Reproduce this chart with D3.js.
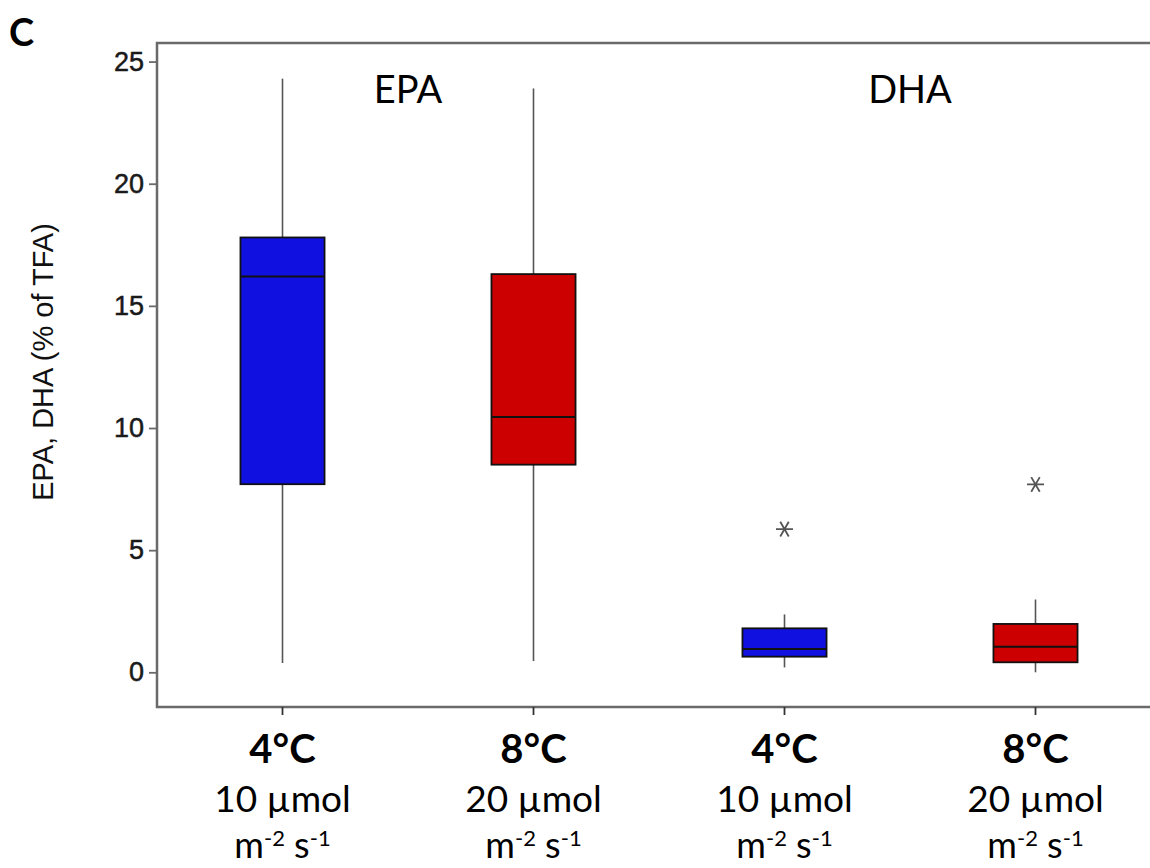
<!DOCTYPE html>
<html><head><meta charset="utf-8">
<script src="https://cdn.jsdelivr.net/npm/d3@7"></script>
<style>body{margin:0;background:#fff}svg{display:block}</style>
</head><body>
<svg id="c" width="1150" height="868"></svg>
<script>
const categories = ["4°C", "8°C", "4°C", "8°C"];
const lightLabels = ["10 µmol", "20 µmol", "10 µmol", "20 µmol"];
const groups = ["EPA", "DHA"];
const whiskerLow = [0.38, 0.46, 0.2, 0.0];
const q1 = [7.7, 8.5, 0.64, 0.41];
const median = [16.2, 10.45, 0.95, 1.05];
const q3 = [17.8, 16.3, 1.8, 1.98];
const whiskerHigh = [24.3, 23.9, 2.37, 2.98];
const outliers = [null, null, 5.86, 7.69];
const boxColors = ["#1010e0", "#cc0000", "#1010e0", "#cc0000"];
const yTicks = [0, 5, 10, 15, 20, 25];

(function () {
const svg = d3.select("#c");
const pLeft = 157, pTop = 43, pBottom = 707, pRight = 1161;
const x = d3.scaleBand().domain(d3.range(categories.length)).range([pLeft, pRight]).padding(0);
const y = d3.scaleLinear().domain([-1.42, 25.76]).range([pBottom, pTop]);
const bw = x.bandwidth() * 0.335;
const cx = i => x(i) + x.bandwidth() / 2;
const axisCol = "#6a6a6a";

// frame
svg.append("rect").attr("x", pLeft).attr("y", pTop).attr("width", pRight - pLeft).attr("height", pBottom - pTop)
  .attr("fill", "none").attr("stroke", axisCol).attr("stroke-width", 2.5);

// y axis
const ya = svg.append("g").attr("transform", `translate(${pLeft},0)`)
  .call(d3.axisLeft(y).tickValues(yTicks).tickSize(8).tickPadding(5).tickFormat(d3.format("d")));
ya.select(".domain").remove();
ya.selectAll(".tick line").attr("stroke", axisCol).attr("stroke-width", 1.8);
ya.selectAll(".tick text").attr("font-family", "Liberation Sans, Arial, sans-serif").attr("font-size", 27)
  .attr("fill", "#1a1a1a").attr("stroke", "#1a1a1a").attr("stroke-width", 0.5);

// x axis ticks
const xa = svg.append("g").attr("transform", `translate(0,${pBottom})`)
  .call(d3.axisBottom(x).tickSize(8).tickFormat(""));
xa.select(".domain").remove();
xa.selectAll(".tick line").attr("stroke", "#333").attr("stroke-width", 1.8);

// boxes
const g = svg.append("g");
categories.forEach((c, i) => {
  const xc = cx(i);
  g.append("line").attr("x1", xc).attr("x2", xc).attr("y1", y(whiskerHigh[i])).attr("y2", y(q3[i]))
    .attr("stroke", "#555").attr("stroke-width", 1.6);
  g.append("line").attr("x1", xc).attr("x2", xc).attr("y1", y(q1[i])).attr("y2", y(whiskerLow[i]))
    .attr("stroke", "#555").attr("stroke-width", 1.6);
  g.append("rect").attr("x", xc - bw / 2).attr("width", bw).attr("y", y(q3[i])).attr("height", y(q1[i]) - y(q3[i]))
    .attr("fill", boxColors[i]).attr("stroke", "#111").attr("stroke-width", 1.8);
  g.append("line").attr("x1", xc - bw / 2).attr("x2", xc + bw / 2).attr("y1", y(median[i])).attr("y2", y(median[i]))
    .attr("stroke", "#111").attr("stroke-width", 2);
  if (outliers[i] != null) {
    const oy = y(outliers[i]), r = 8.5;
    let p = "";
    [0, 60, 120].forEach(a => {
      const t = a * Math.PI / 180;
      p += `M${xc - r * Math.cos(t)},${oy - r * Math.sin(t)}L${xc + r * Math.cos(t)},${oy + r * Math.sin(t)}`;
    });
    g.append("path").attr("d", p).attr("stroke", "#555").attr("stroke-width", 1.8).attr("fill", "none");
  }
});

// group labels
groups.forEach((t, k) => {
  svg.append("text").attr("x", (cx(2 * k) + cx(2 * k + 1)) / 2).attr("y", 103)
    .attr("text-anchor", "middle").attr("font-family", "Lato, sans-serif").attr("font-size", 38)
    .attr("fill", "#000").text(t);
});

// x labels
const xl = svg.append("g").attr("font-family", "Lato, sans-serif").attr("fill", "#000").attr("text-anchor", "middle");
categories.forEach((c, i) => {
  xl.append("text").attr("x", cx(i)).attr("y", 763).attr("font-size", 40).attr("font-weight", "bold").text(c);
  xl.append("text").attr("x", cx(i)).attr("y", 812).attr("font-size", 37).text(lightLabels[i]);
  const t = xl.append("text").attr("x", cx(i)).attr("y", 858).attr("font-size", 36);
  t.append("tspan").text("m");
  t.append("tspan").attr("dy", -12).attr("font-size", 22).text("-2");
  t.append("tspan").attr("dy", 12).text(" s");
  t.append("tspan").attr("dy", -12).attr("font-size", 22).text("-1");
});

// y label
svg.append("text").attr("transform", "translate(53,362) rotate(-90)").attr("text-anchor", "middle")
  .attr("font-family", "Liberation Sans, Arial, sans-serif").attr("font-size", 29).attr("fill", "#111")
  .text("EPA, DHA (% of TFA)");

// panel letter
svg.append("text").attr("x", 9).attr("y", 46).attr("font-family", "Lato, sans-serif").attr("font-weight", "bold")
  .attr("font-size", 38).attr("fill", "#000").text("C");
})();
</script>
</body></html>
